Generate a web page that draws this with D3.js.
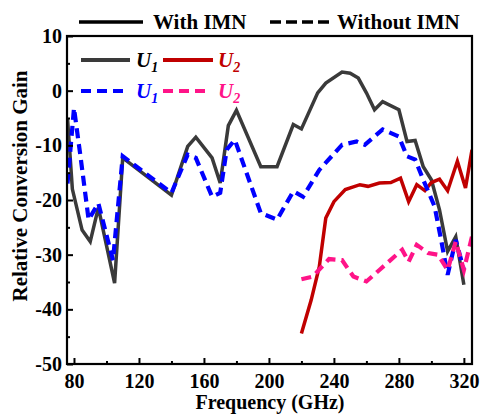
<!DOCTYPE html>
<html>
<head>
<meta charset="utf-8">
<script src="https://cdn.jsdelivr.net/npm/d3@7"></script>
<style>
  body { margin: 0; background: #fff; }
  svg text { font-family: "Liberation Serif", "Times New Roman", serif; font-weight: bold; }
</style>
</head>
<body>
<div id="chart"></div>
<script>
// U1 with IMN (solid, grey)
var u1WithFreq = [76, 79, 85, 90, 95, 105, 110, 140, 150, 155, 165, 170, 175, 180, 195, 205, 215, 220, 230, 235, 245, 250, 255, 260, 265, 270, 280, 285, 290, 295, 300, 305, 310, 315, 320];
var u1WithGain = [-5, -18, -25.5, -27.6, -21.4, -35.2, -12.3, -19.1, -10.2, -8.5, -12.3, -16.9, -6.4, -3.6, -13.9, -13.9, -6.2, -7, -0.4, 1.4, 3.4, 3.2, 2.3, -0.4, -3.5, -2, -3.5, -9.3, -9.1, -13.9, -16.3, -21.8, -29.4, -26.7, -35.5];

// U1 without IMN (dashed, blue)
var u1NoFreq = [76, 80, 84, 89, 95, 104, 110, 140, 150, 155, 165, 170, 174, 179, 195, 205, 215, 221, 231, 245, 254, 259, 270, 280, 285, 290, 295, 302, 306, 310, 315, 320];
var u1NoGain = [-17, -3.2, -12, -23.6, -20.6, -31, -12, -18.7, -11.7, -12.3, -19.4, -18.7, -10.8, -9, -22.4, -23.6, -18.4, -19.4, -14.5, -9.9, -9.3, -9.9, -7.1, -8.4, -12, -12.6, -16.3, -21.2, -27.3, -33.7, -27.3, -32.8];

// U2 with IMN (solid, red)
var u2WithFreq = [220, 226, 231, 235, 240, 247, 256, 261, 268, 275, 281, 286, 291, 296, 300, 305, 310, 316, 321, 325];
var u2WithGain = [-44.4, -38.3, -32.2, -23.3, -20.3, -18.1, -17.2, -17.5, -16.9, -16.8, -16, -20.3, -17.2, -18.3, -16.8, -16.2, -18.3, -12.9, -17.8, -10.8];

// U2 without IMN (dashed, pink)
var u2NoFreq = [220, 227, 237, 245, 252, 260, 268, 282, 286, 291, 298, 304, 310, 315, 320, 325];
var u2NoGain = [-34.5, -34, -30.8, -31, -34, -34.9, -32.8, -29.1, -31.3, -28.2, -29.7, -30, -32.8, -27.6, -32.8, -26.7];

var xTicks = [80, 120, 160, 200, 240, 280, 320];
var xMinor = [100, 140, 180, 220, 260, 300];
var yTicks = [-50, -40, -30, -20, -10, 0, 10];
var yMinor = [-45, -35, -25, -15, -5, 5];

function init() {
    var w = 485, h = 414;
    var left = 67, right = 472, top = 36, bottom = 364;

    var svg = d3.select("#chart").append("svg")
        .attr("width", w)
        .attr("height", h);

    var x = d3.scaleLinear().domain([75.7, 325]).range([left, right]);
    var y = d3.scaleLinear().domain([-50, 10]).range([bottom, top]);

    svg.append("clipPath").attr("id", "clip")
        .append("rect")
        .attr("x", left).attr("y", top)
        .attr("width", right - left).attr("height", bottom - top);

    var line = d3.line()
        .x(function(d) { return x(d[0]); })
        .y(function(d) { return y(d[1]); });

    function pairs(f, g) {
        return f.map(function(v, i) { return [v, g[i]]; });
    }

    var series = [
        { data: pairs(u1WithFreq, u1WithGain), color: "#3a3a3a", dash: null, width: 3.5 },
        { data: pairs(u2WithFreq, u2WithGain), color: "#c00000", dash: null, width: 3.5 },
        { data: pairs(u1NoFreq, u1NoGain), color: "#0000ff", dash: "10,6", width: 4.2 },
        { data: pairs(u2NoFreq, u2NoGain), color: "#ff1488", dash: "10,6", width: 4.2 }
    ];

    var g = svg.append("g").attr("clip-path", "url(#clip)");
    series.forEach(function(s) {
        g.append("path")
            .datum(s.data)
            .attr("fill", "none")
            .attr("stroke", s.color)
            .attr("stroke-width", s.width)
            .attr("stroke-dasharray", s.dash)
            .attr("stroke-linejoin", "miter")
            .attr("d", line);
    });

    // axes with inward ticks
    var xAxis = svg.append("g").attr("transform", "translate(0," + bottom + ")")
        .call(d3.axisBottom(x).tickValues(xTicks).tickSize(-6).tickPadding(10));
    svg.append("g").attr("transform", "translate(0," + bottom + ")")
        .call(d3.axisBottom(x).tickValues(xMinor).tickSize(-3).tickFormat(""));
    var yAxis = svg.append("g").attr("transform", "translate(" + left + ",0)")
        .call(d3.axisLeft(y).tickValues(yTicks).tickSize(-6).tickPadding(5)
            .tickFormat(function(d) { return d < 0 ? "-" + Math.abs(d) : d; }));
    svg.append("g").attr("transform", "translate(" + left + ",0)")
        .call(d3.axisLeft(y).tickValues(yMinor).tickSize(-3).tickFormat(""));

    svg.selectAll(".domain").remove();
    svg.selectAll(".tick line").attr("stroke", "#000").attr("stroke-width", 2);
    svg.selectAll(".tick text")
        .attr("fill", "#000")
        .style("font-size", "20px")
        .style("font-family", "'Liberation Serif', serif")
        .style("font-weight", "bold");
    xAxis.selectAll(".tick text").attr("dy", "0.71em");

    // frame
    svg.append("rect")
        .attr("x", left).attr("y", top)
        .attr("width", right - left).attr("height", bottom - top)
        .attr("fill", "none").attr("stroke", "#000").attr("stroke-width", 2.2);

    // axis titles
    svg.append("text")
        .attr("x", 270).attr("y", 409)
        .attr("text-anchor", "middle")
        .style("font-size", "20px")
        .text("Frequency (GHz)");
    svg.append("text")
        .attr("transform", "translate(27,186) rotate(-90)")
        .attr("text-anchor", "middle")
        .style("font-size", "21px")
        .text("Relative Conversion Gain");

    // top legend
    svg.append("line").attr("x1", 79).attr("x2", 143).attr("y1", 22).attr("y2", 22)
        .attr("stroke", "#000").attr("stroke-width", 3.5);
    svg.append("text").attr("x", 153).attr("y", 29).style("font-size", "21px").text("With IMN");
    svg.append("line").attr("x1", 270).attr("x2", 331).attr("y1", 22).attr("y2", 22)
        .attr("stroke", "#000").attr("stroke-width", 3.5).attr("stroke-dasharray", "11,5");
    svg.append("text").attr("x", 337).attr("y", 29).style("font-size", "21px").text("Without IMN");

    // inner legend
    var items = [
        { x1: 81, x2: 130, y: 60, color: "#3a3a3a", dash: null, tx: 136, label: "1", tcolor: "#000" },
        { x1: 163, x2: 213, y: 60, color: "#c00000", dash: null, tx: 218, label: "2", tcolor: "#c00000" },
        { x1: 81, x2: 124, y: 91, color: "#0000ff", dash: "10,6", tx: 136, label: "1", tcolor: "#0000ff" },
        { x1: 163, x2: 205, y: 91, color: "#ff1488", dash: "10,6", tx: 218, label: "2", tcolor: "#ff1488" }
    ];
    items.forEach(function(d) {
        svg.append("line")
            .attr("x1", d.x1).attr("x2", d.x2).attr("y1", d.y).attr("y2", d.y)
            .attr("stroke", d.color).attr("stroke-width", 3.8)
            .attr("stroke-dasharray", d.dash);
        var t = svg.append("text")
            .attr("x", d.tx).attr("y", d.y + 7)
            .attr("fill", d.tcolor)
            .style("font-size", "21px")
            .style("font-style", "italic");
        t.append("tspan").text("U");
        t.append("tspan").attr("dy", 5).style("font-size", "14px").text(d.label);
    });
}

window.onload = init;
</script>
</body>
</html>
